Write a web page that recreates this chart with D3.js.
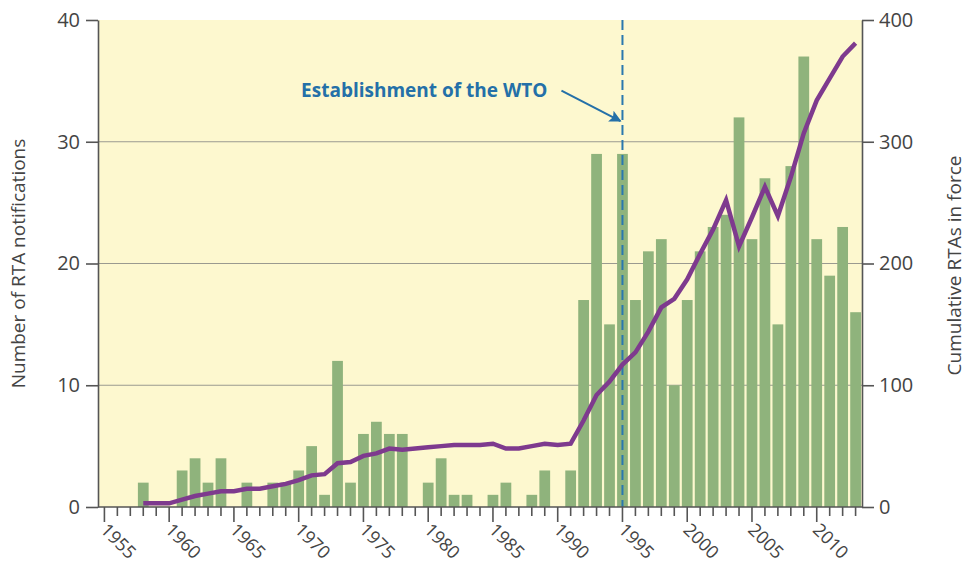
<!DOCTYPE html>
<html>
<head>
<meta charset="utf-8">
<script src="https://cdn.jsdelivr.net/npm/d3@7"></script>
<style>
  body { margin: 0; background: #fff; }
  text { font-family: "Open Sans", sans-serif; }
</style>
</head>
<body>
<div id="chart"></div>
<script>
// data
var years = d3.range(1955, 2014);
var notifications = [
  0, 0, 0, 2, 0, 0, 3, 4, 2, 4,        // 1955-1964
  0, 2, 0, 2, 2, 3, 5, 1, 12, 2,       // 1965-1974
  6, 7, 6, 6, 0, 2, 4, 1, 1, 0,        // 1975-1984
  1, 2, 0, 1, 3, 0, 3, 17, 29, 15,     // 1985-1994
  29, 17, 21, 22, 10, 17, 21, 23, 24, 32, // 1995-2004
  22, 27, 15, 28, 37, 22, 19, 23, 16   // 2005-2013
];
var cumYears = d3.range(1958, 2014);
var cumulative = [
  3, 3, 3, 6, 9, 11, 13,               // 1958-1964
  13, 15, 15, 17, 19, 22, 26, 27, 36, 37, // 1965-1974
  42, 44, 48, 47, 48, 49, 50, 51, 51, 51, // 1975-1984
  52, 48, 48, 50, 52, 51, 52, 71, 92, 103, // 1985-1994
  117, 127, 144, 164, 171, 187, 208, 228, 252, 214, // 1995-2004
  238, 263, 239, 271, 307, 334, 352, 370, 381 // 2005-2013
];
var leftTicks = [0, 10, 20, 30, 40];
var rightTicks = [0, 100, 200, 300, 400];
var gridTicks = [10, 20, 30];
var wtoYear = 1995;

var width = 968, height = 569;
var margin = {top: 20, right: 106, bottom: 62, left: 98};

var svg = d3.select("#chart").append("svg")
  .attr("width", width)
  .attr("height", height);

var x = d3.scaleBand()
  .domain(years)
  .range([margin.left, width - margin.right])
  .paddingInner(0.17)
  .paddingOuter(0.08);

var y = d3.scaleLinear()
  .domain([0, 40])
  .range([height - margin.bottom, margin.top]);

var y2 = d3.scaleLinear()
  .domain([0, 400])
  .range([height - margin.bottom, margin.top]);

var cx = d => x(d) + x.bandwidth() / 2;

// background
svg.append("rect")
  .attr("x", margin.left)
  .attr("y", margin.top)
  .attr("width", width - margin.left - margin.right)
  .attr("height", height - margin.top - margin.bottom)
  .attr("fill", "#fdf8cf");

// gridlines
svg.append("g")
  .selectAll("line")
  .data(gridTicks)
  .join("line")
  .attr("x1", margin.left)
  .attr("x2", width - margin.right)
  .attr("y1", d => y(d))
  .attr("y2", d => y(d))
  .attr("stroke", "#9a9a90")
  .attr("stroke-width", 1);

// bars
svg.append("g")
  .attr("fill", "#8fb37c")
  .selectAll("rect")
  .data(years.map((yr, i) => ({year: yr, value: notifications[i]})).filter(d => d.value > 0))
  .join("rect")
  .attr("x", d => x(d.year))
  .attr("y", d => y(d.value))
  .attr("width", x.bandwidth())
  .attr("height", d => y(0) - y(d.value));

// WTO dashed line
svg.append("line")
  .attr("x1", cx(wtoYear))
  .attr("x2", cx(wtoYear))
  .attr("y1", y(40))
  .attr("y2", y(0))
  .attr("stroke", "#2a78ae")
  .attr("stroke-width", 2)
  .attr("stroke-dasharray", "10,5");

// cumulative line
var line = d3.line()
  .x((d, i) => cx(cumYears[i]))
  .y(d => y2(d));

svg.append("path")
  .datum(cumulative)
  .attr("fill", "none")
  .attr("stroke", "#7e3a8e")
  .attr("stroke-width", 4.5)
  .attr("stroke-linejoin", "miter")
  .attr("d", line);

// annotation
svg.append("defs").append("marker")
  .attr("id", "arrow")
  .attr("viewBox", "0 0 10 10")
  .attr("refX", 9)
  .attr("refY", 5)
  .attr("markerWidth", 7)
  .attr("markerHeight", 6)
  .attr("orient", "auto")
  .append("path")
  .attr("d", "M0,0L10,5L0,10L2,5z")
  .attr("fill", "#2470a8");

svg.append("line")
  .attr("x1", cx(wtoYear) - 61)
  .attr("y1", y(34.2))
  .attr("x2", cx(wtoYear) - 2)
  .attr("y2", y(31.7))
  .attr("stroke", "#2470a8")
  .attr("stroke-width", 2)
  .attr("marker-end", "url(#arrow)");

svg.append("text")
  .attr("x", cx(wtoYear) - 75)
  .attr("y", y(34.2))
  .attr("dy", "0.35em")
  .attr("text-anchor", "end")
  .attr("fill", "#2470a8")
  .attr("font-weight", 700)
  .attr("font-size", 19)
  .text("Establishment of the WTO");

// axes
function styleAxis(g) {
  g.selectAll(".domain").attr("stroke", "#555").attr("stroke-width", 1.6);
  g.selectAll(".tick line").attr("stroke", "#555").attr("stroke-width", 1.6);
  g.selectAll(".tick text").attr("fill", "#444").attr("font-size", 20)
    .attr("font-family", "Open Sans, sans-serif");
}

svg.append("g")
  .attr("transform", `translate(${margin.left},0)`)
  .call(d3.axisLeft(y).tickValues(leftTicks).tickSize(12).tickPadding(6).tickSizeOuter(0))
  .call(styleAxis);

svg.append("g")
  .attr("transform", `translate(${width - margin.right},0)`)
  .call(d3.axisRight(y2).tickValues(rightTicks).tickSize(12).tickPadding(5).tickSizeOuter(0))
  .call(styleAxis);

var xAxis = svg.append("g")
  .attr("transform", `translate(0,${y(0)})`)
  .call(d3.axisBottom(x)
    .tickSize(8)
    .tickSizeOuter(0)
    .tickFormat(d => d % 5 === 0 ? d : ""))
  .call(styleAxis);

xAxis.select(".domain").attr("d", `M${margin.left},0H${width - margin.right}`);
xAxis.selectAll(".tick line").attr("y2", d => d % 5 === 0 ? 15 : 9);
xAxis.selectAll(".tick text")
  .attr("text-anchor", "start")
  .attr("dy", 0)
  .attr("font-size", 18)
  .attr("transform", "translate(-5,24) rotate(45)")
  .attr("y", 0)
  .attr("x", 0);

// axis titles
svg.append("text")
  .attr("transform", `translate(25,${(margin.top + y(0)) / 2 + 0}) rotate(-90)`)
  .attr("text-anchor", "middle")
  .attr("fill", "#444")
  .attr("font-size", 19)
  .text("Number of RTA notifications");

svg.append("text")
  .attr("transform", `translate(961,${(margin.top + y(0)) / 2 + 2}) rotate(-90)`)
  .attr("text-anchor", "middle")
  .attr("fill", "#444")
  .attr("font-size", 19)
  .text("Cumulative RTAs in force");
</script>
</body>
</html>
